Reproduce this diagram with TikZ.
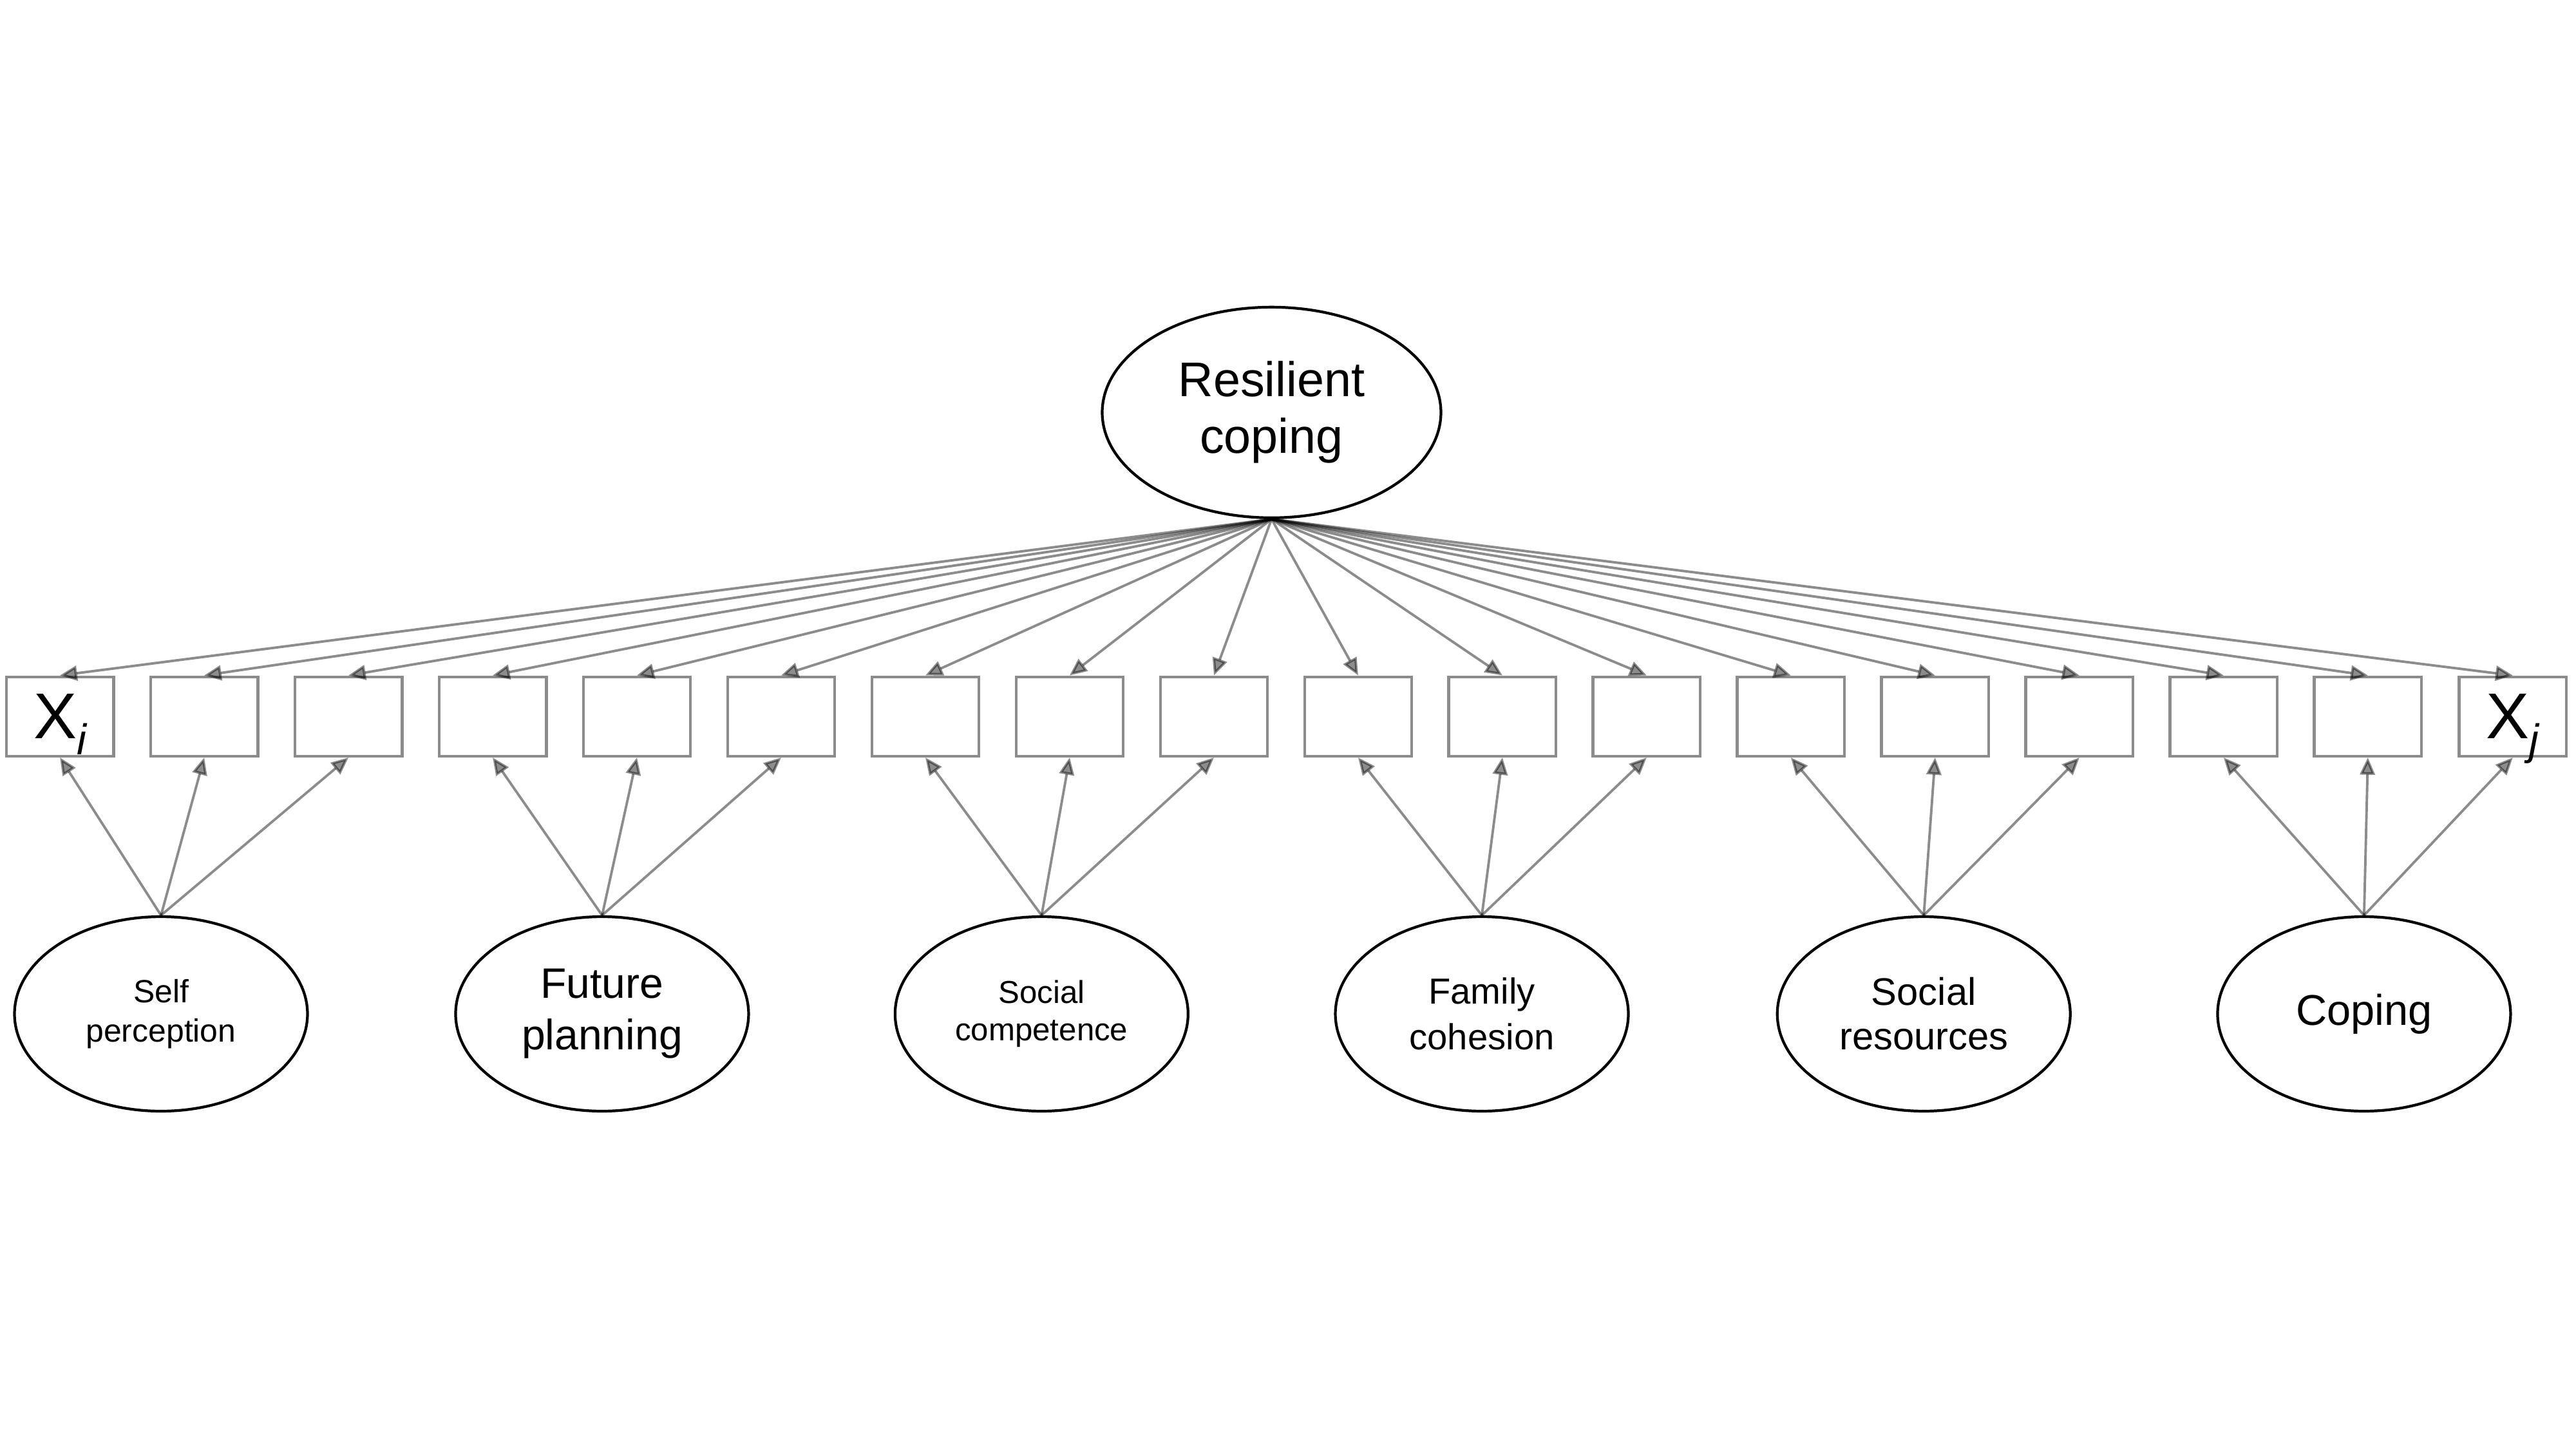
\documentclass[tikz,border=0pt]{standalone}
\usepackage{fontspec}
\setmainfont{Liberation Sans}
\usetikzlibrary{shapes.geometric,arrows.meta,positioning}

\newcommand{\itemvar}[1]{X\smash{\raisebox{-7pt}{\fontsize{19}{19}\selectfont\itshape #1}}}

\begin{document}
\begin{tikzpicture}[x=0.02551cm, y=-0.02551cm,
    obs/.style={rectangle, draw=black, draw opacity=0.45, line width=1.2pt, minimum width=1.667cm, minimum height=1.233cm, inner sep=0pt, font=\fontsize{28.6}{30}\selectfont},
    lat/.style={ellipse, draw=black, line width=1.2pt, minimum width=4.55cm, minimum height=3.02cm, inner sep=0pt, align=center},
    load/.style={draw=black, opacity=0.45, line width=1.1pt, -{Triangle[length=7.6pt,width=6.6pt]}}]
    \useasboundingbox (0,0) rectangle (1568,882);
    \node[lat, minimum width=5.26cm, minimum height=3.27cm, font=\fontsize{21.5}{25}\selectfont] (rc) at (774,251) {Resilient\\coping};
    \node[obs] (x1) at (36.5,436) {\itemvar{i}};
    \foreach \i in {2,...,17}
        \node[obs] (x\i) at ({36.5+87.8*(\i-1)},436) {};
    \node[obs] (x18) at (1529.5,436) {\itemvar{j}};
    \node[lat, font=\fontsize{14.2}{17.5}\selectfont] (sp) at (98,617) {Self\\perception};
    \node[lat, font=\fontsize{18.8}{22.8}\selectfont] (fp) at (366.5,617) {Future\\planning};
    \node[lat, font=\fontsize{14}{16.4}\selectfont] (sc) at (634,617) {Social\\competence};
    \node[lat, font=\fontsize{16}{20}\selectfont] (fc) at (902,617) {Family\\cohesion};
    \node[lat, font=\fontsize{17}{19.6}\selectfont] (sr) at (1171,617) {Social\\resources};
    \node[lat, font=\fontsize{19}{22}\selectfont] (cp) at (1439,617) {Coping};
    \foreach \i in {1,...,18}
        \draw[load] (rc.south) -- (x\i.north);
    \foreach \f [count=\k] in {sp,fp,sc,fc,sr,cp}
        \foreach \j in {1,2,3} {
            \pgfmathtruncatemacro\n{3*\k-3+\j}
            \draw[load] (\f.north) -- (x\n.south);
        }
\end{tikzpicture}
\end{document}
